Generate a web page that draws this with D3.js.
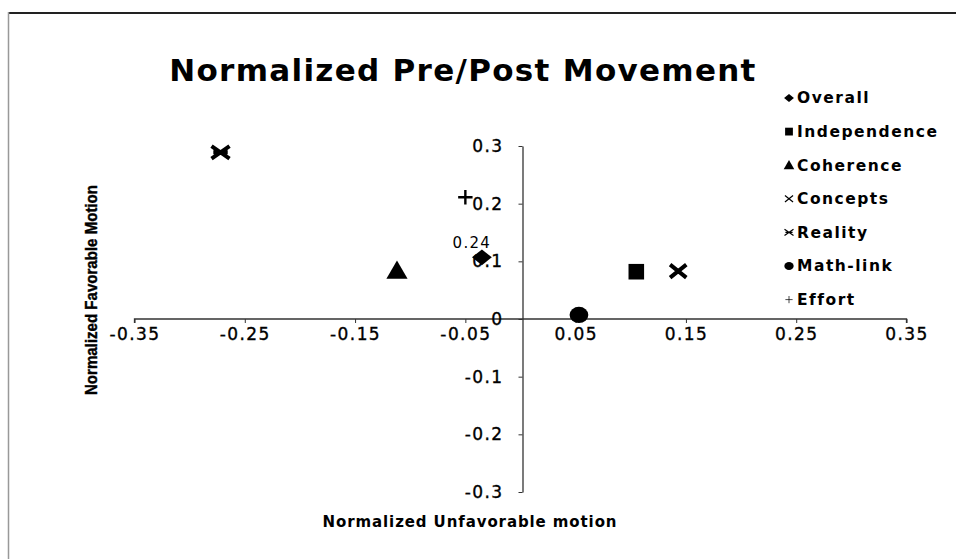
<!DOCTYPE html>
<html><head><meta charset="utf-8">
<script src="https://cdn.jsdelivr.net/npm/d3@7"></script>
<style>
html,body{margin:0;padding:0;background:#fff;}
svg{display:block;}
</style></head>
<body>
<svg id="chart" width="956" height="559"></svg>
<script>
// ---- data ----
const seriesNames = ["Overall","Independence","Coherence","Concepts","Reality","Math-link","Effort"];
const xValues = [-0.035, 0.105, -0.112, 0.143, -0.272, 0.053, -0.050];
const yValues = [0.107, 0.082, 0.082, 0.083, 0.289, 0.007, 0.211];
const xTickValues = [-0.35,-0.25,-0.15,-0.05,0.05,0.15,0.25,0.35];
const yTickValues = [-0.3,-0.2,-0.1,0,0.1,0.2,0.3];
const dataLabelText = ["0.24"];
const dataLabelSeries = [0];
const titleText = "Normalized Pre/Post Movement";
const xTitle = "Normalized Unfavorable motion";
const yTitle = "Normalized Favorable Motion";

const svg = d3.select("#chart");
const W = 956, H = 559;

// frame
svg.append("line").attr("x1",8).attr("y1",13).attr("x2",W).attr("y2",13).attr("stroke","#222").attr("stroke-width",2);
svg.append("line").attr("x1",8.5).attr("y1",12).attr("x2",8.5).attr("y2",H).attr("stroke","#999").attr("stroke-width",1.5);

const x = d3.scaleLinear().domain([-0.35,0.35]).range([134.5,906.5]);
const y = d3.scaleLinear().domain([-0.3,0.3]).range([492,146]);

// title
svg.append("text").attr("x",463).attr("y",81).attr("text-anchor","middle")
  .attr("font-family","DejaVu Sans").attr("font-weight","bold").attr("font-size",31)
  .attr("letter-spacing",1.3)
  .attr("fill","#000").text(titleText);

const tickFont = t => t.attr("font-family","DejaVu Sans").attr("font-size",17)
  .attr("letter-spacing",1.4).attr("fill","#000").attr("stroke","#000").attr("stroke-width",0.35);

// x axis at y=0
const xAxis = d3.axisBottom(x).tickValues(xTickValues).tickSize(4).tickSizeOuter(0)
  .tickFormat(d=>d3.format(".2f")(d).replace("−","-"));
const gx = svg.append("g").attr("transform",`translate(0,${y(0)})`).call(xAxis);
gx.select(".domain").attr("stroke","#333").attr("stroke-width",1.3).attr("d",`M${x(-0.35)},4V0H${x(0.35)}V4`);
gx.selectAll(".tick line").attr("stroke","#333");
gx.selectAll(".tick text").call(tickFont).attr("dy","0.85em");

// y axis at x=0
const yAxis = d3.axisLeft(y).tickValues(yTickValues).tickSize(4).tickSizeOuter(0)
  .tickFormat(d=> d===0 ? "0" : d3.format(".1f")(d).replace("−","-"));
const gy = svg.append("g").attr("transform",`translate(${x(0)+2},0)`).call(yAxis);
gy.select(".domain").attr("stroke","#333").attr("stroke-width",1.3);
gy.selectAll(".tick line").attr("stroke","#333");
gy.selectAll(".tick text").call(tickFont).attr("x",-19);

// axis titles
svg.append("text").attr("x",470).attr("y",527).attr("text-anchor","middle")
  .attr("font-family","DejaVu Sans").attr("font-weight","bold").attr("font-size",15)
  .attr("letter-spacing",0.9)
  .attr("fill","#000").text(xTitle);
svg.append("text").attr("transform","translate(97,290) rotate(-90)").attr("text-anchor","middle")
  .attr("font-family","Liberation Sans Narrow, Liberation Sans, sans-serif").attr("font-weight","bold").attr("font-size",16)
  .attr("textLength",210).attr("lengthAdjust","spacingAndGlyphs")
  .attr("stroke","#000").attr("stroke-width",0.4)
  .attr("fill","#000").text(yTitle);

// marker drawing
function marker(g, i, s, sw){
  const name = seriesNames[i];
  if(name==="Overall"){
    const r=s*0.55;
    g.append("path").attr("d",`M0,${-r*0.8}L${r},0L0,${r*0.8}L${-r},0Z`).attr("fill","#000");
  } else if(name==="Independence"){
    g.append("path").attr("d",d3.symbol().type(d3.symbolSquare).size(s*s*0.75)()).attr("fill","#000");
  } else if(name==="Coherence"){
    g.append("path").attr("d",d3.symbol().type(d3.symbolTriangle).size(s*s*0.6)()).attr("fill","#000").attr("transform","translate(0,1)");
  } else if(name==="Concepts"){
    const r=s*0.45;
    g.append("path").attr("d",`M${-r},${-r*0.8}L${r},${r*0.8}M${-r},${r*0.8}L${r},${-r*0.8}`).attr("stroke","#000").attr("stroke-width",sw).attr("fill","none");
  } else if(name==="Reality"){
    const r=s*0.5;
    g.append("path").attr("d",`M${-r},${-r*0.7}L${r},${r*0.7}M${-r},${r*0.7}L${r},${-r*0.7}M${-r*0.8},0H${r*0.8}`).attr("stroke","#000").attr("stroke-width",sw).attr("fill","none");
  } else if(name==="Math-link"){
    g.append("ellipse").attr("rx",s*0.52).attr("ry",s*0.45).attr("fill","#000");
  } else if(name==="Effort"){
    const r=s*0.4;
    g.append("path").attr("d",`M${-r},0H${r}M0,${-r}V${r}`).attr("stroke","#000").attr("stroke-width",sw*0.6).attr("fill","none");
  }
}

// data label (drawn under markers)
dataLabelText.forEach((t,k)=>{
  const i = dataLabelSeries[k];
  svg.append("text").attr("x",x(xValues[i])-10).attr("y",y(yValues[i])-9).attr("text-anchor","middle")
    .attr("font-family","DejaVu Sans").attr("font-size",15).attr("letter-spacing",1.3)
    .attr("fill","#000").text(t);
});

// points
seriesNames.forEach((n,i)=>{
  const g = svg.append("g").attr("transform",`translate(${x(xValues[i])},${y(yValues[i])})`);
  marker(g, i, 18, 4);
});

// legend
const legY0 = 98, legStep = 33.6;
seriesNames.forEach((n,i)=>{
  const ly = legY0 + i*legStep;
  const g = svg.append("g").attr("transform",`translate(789,${ly})`);
  marker(g, i, 9, 1.2);
  svg.append("text").attr("x",797).attr("y",ly).attr("dy","0.35em")
    .attr("font-family","DejaVu Sans").attr("font-weight","bold").attr("font-size",15.5)
    .attr("letter-spacing",1.5)
    .attr("fill","#000").text(n);
});
</script>
</body></html>
